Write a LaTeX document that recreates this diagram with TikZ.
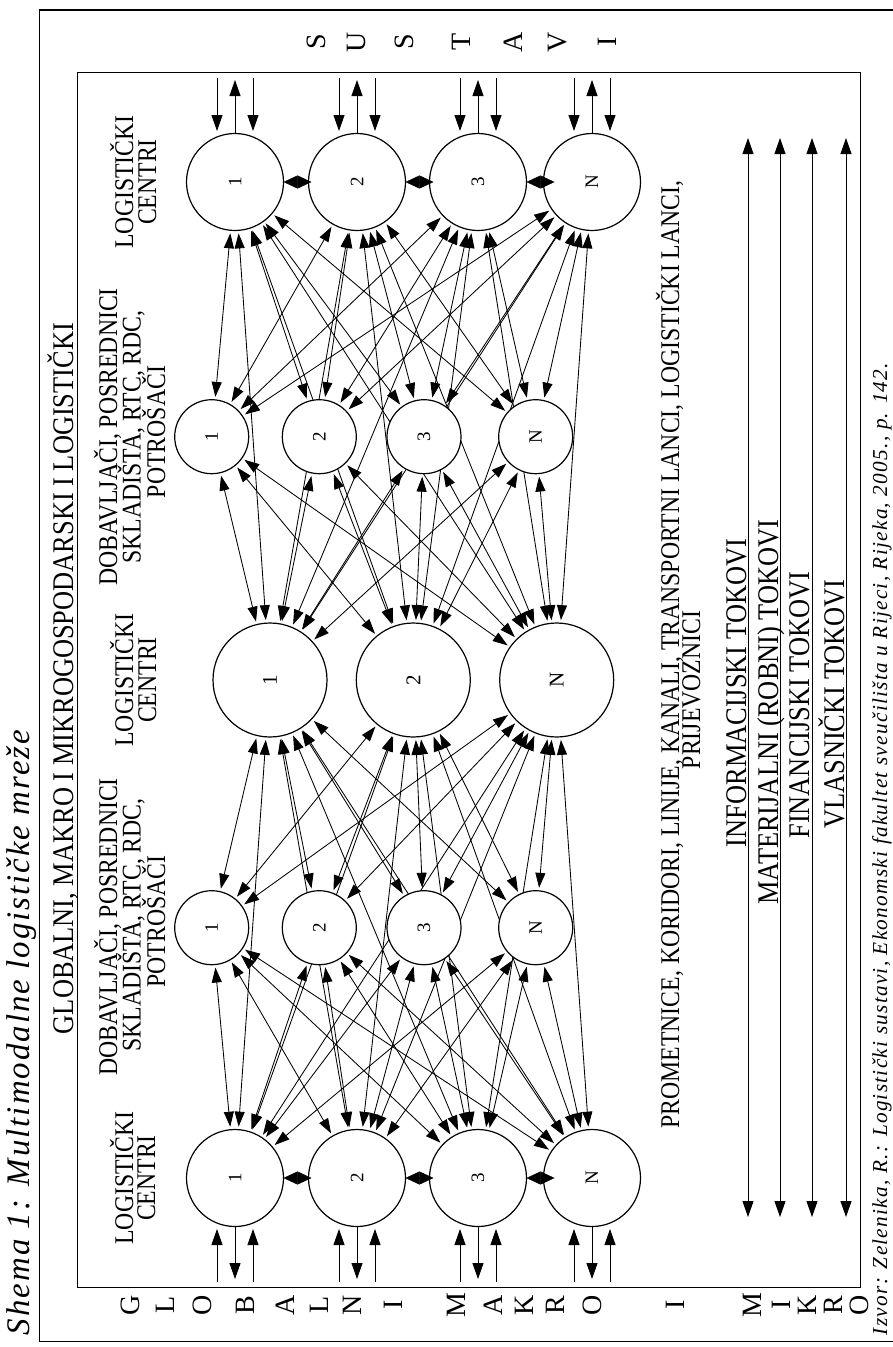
\documentclass[tikz,border=0pt]{standalone}
\usepackage{fontspec}
\setmainfont{Liberation Serif}
\newfontfamily\labfont[FakeStretch=0.88]{Liberation Serif}
\newfontfamily\notefont[LetterSpace=6]{Liberation Serif}
\usetikzlibrary{arrows.meta}
\pgfdeclarelayer{edges}
\pgfsetlayers{edges,main}

\begin{document}
\begin{tikzpicture}[x=1pt, y=-1pt,
  every node/.style={inner sep=0pt, outer sep=0pt},
  ring/.style={circle, draw, fill=white, line width=1.2pt, inner sep=0pt},
  lcring/.style={ring, minimum size=97pt, font=\fontsize{19}{19}\selectfont},
  smring/.style={ring, minimum size=74pt, font=\fontsize{19}{19}\selectfont},
  bgring/.style={ring, minimum size=114pt, font=\fontsize{21}{21}\selectfont},
  lbl/.style={rotate=90, anchor=base, font=\fontsize{27}{27}\labfont},
  title/.style={rotate=90, anchor=base, font=\fontsize{30}{30}\labfont},
  flowtxt/.style={rotate=90, anchor=base, font=\fontsize{30}{30}\labfont},
  letter/.style={rotate=90, anchor=center, font=\fontsize{28}{28}\selectfont},
  frame/.style={line width=1.2pt},
  net/.style={line width=0.85pt, {Triangle[length=15pt,width=10pt]}-{Triangle[length=15pt,width=10pt]},
    shorten <=3pt, shorten >=3pt},
  io/.style={line width=0.9pt, -{Triangle[length=16pt,width=11pt]}},
  flow/.style={line width=0.9pt, {Triangle[length=16pt,width=11pt]}-{Triangle[length=16pt,width=11pt]}},
  dia/.style={{Triangle[length=14pt,width=13pt]}-{Triangle[length=14pt,width=13pt]}},
]
\useasboundingbox (0,0) rectangle (893,1347);

% frames
\draw[frame] (39.3,10) rectangle (910,1341.7);
\draw[frame] (77.3,72.7) rectangle (860.5,1287.7);

% caption and source
\node[rotate=90, anchor=base] (caption) at (29,1032.5)
  {\resizebox{605pt}{!}{\notefont\itshape Shema 1: Multimodalne logističke mreže}};
\node[rotate=90, anchor=base] (source) at (887,849)
  {\resizebox{972pt}{!}{\notefont\itshape Izvor: Zelenika, R.: Logistički sustavi, Ekonomski fakultet sveučilišta u Rijeci, Rijeka, 2005., p. 142.}};

% title line
\node[title] (head) at (73,678.5) {GLOBALNI, MAKRO I MIKROGOSPODARSKI I LOGISTIČKI};

% column labels
\node[lbl] (tA) at (133,182) {LOGISTIČKI};
\node[lbl] (tB) at (156,182) {CENTRI};
\node[lbl] (uA) at (117,437) {DOBAVLJAČI, POSREDNICI};
\node[lbl] (uB) at (140.5,437) {SKLADIŠTA, RTC, RDC,};
\node[lbl] (uC) at (165,432) {POTROŠAČI};
\node[lbl] (mA) at (133,680) {LOGISTIČKI};
\node[lbl] (mB) at (156,680) {CENTRI};
\node[lbl] (lA) at (117,927) {DOBAVLJAČI, POSREDNICI};
\node[lbl] (lB) at (140.5,925) {SKLADIŠTA, RTC, RDC,};
\node[lbl] (lC) at (165,921.5) {POTROŠAČI};
\node[lbl] (bA) at (133,1178) {LOGISTIČKI};
\node[lbl] (bB) at (155,1178) {CENTRI};

\node[lbl] (pA) at (679,654.5) {PROMETNICE, KORIDORI, LINIJE, KANALI, TRANSPORTNI LANCI, LOGISTIČKI LANCI,};
\node[lbl] (pB) at (700,690) {PRIJEVOZNICI};

% flows
\node[flowtxt] (f1) at (746,693) {INFORMACIJSKI TOKOVI};
\node[flowtxt] (f2) at (778,712) {MATERIJALNI (ROBNI) TOKOVI};
\node[flowtxt] (f3) at (809,705) {FINANCIJSKI TOKOVI};
\node[flowtxt] (f4) at (844,704) {VLASNIČKI TOKOVI};
\foreach \x [count=\i] in {748,780,812,846} {
  \coordinate (fa\i) at (\x,138);
  \coordinate (fb\i) at (\x,1217);
  \draw[flow] (fa\i) -- (fb\i);
}

% spaced vertical words
\foreach \ch/\x [count=\i] in {S/316,U/356,S/404,T/461,A/513,V/558,I/607}
  \node[letter] (sv\i) at (\x,42) {\ch};
\foreach \ch/\x [count=\i] in {G/130,L/165,O/202,B/245,A/285,L/319,N/352,I/393,
    M/456,A/493,K/524,R/555,O/592,I/675,M/752,I/781,K/807,R/833,O/859}
  \node[letter] (gm\i) at (\x,1305) {\ch};

% logistic centres, suppliers, central centres
\foreach \n/\x/\t in {1/235/1,2/357/2,3/478/3,4/592/N} {
  \node[lcring] (T\n) at (\x,182) {\rotatebox{90}{\t}};
  \node[lcring] (B\n) at (\x,1178) {\rotatebox{90}{\t}};
}
\foreach \n/\x/\t in {1/211.7/1,2/319.3/2,3/424/3,4/535.7/N} {
  \node[smring] (U\n) at (\x,436.7) {\rotatebox{90}{\t}};
  \node[smring] (L\n) at (\x,927.7) {\rotatebox{90}{\t}};
}
\foreach \n/\x/\t in {1/270/1,2/413.3/2,3/556.7/N}
  \node[bgring] (M\n) at (\x,680) {\rotatebox{90}{\t}};

% links between neighbouring centres
\foreach \a/\b in {1/2,2/3,3/4} {
  \coordinate (td\a) at ([xshift=28pt]T\a.east);
  \draw[dia] (T\a.east) -- (td\a);
  \coordinate (bd\a) at ([xshift=28pt]B\a.east);
  \draw[dia] (B\a.east) -- (bd\a);
}

% inputs and outputs at the frame
\foreach \n/\x in {1/235,2/357,3/478,4/592} {
  \coordinate (tl0\n) at (\x-18,78);  \coordinate (tl1\n) at (\x-18,131);
  \coordinate (tr0\n) at (\x+18,78);  \coordinate (tr1\n) at (\x+18,131);
  \coordinate (tm\n) at (\x,80);
  \draw[io] (tl0\n) -- (tl1\n);
  \draw[io] (tr0\n) -- (tr1\n);
  \draw[io] (T\n.north) -- (tm\n);
  \coordinate (bl0\n) at (\x-18,1282); \coordinate (bl1\n) at (\x-18,1229);
  \coordinate (br0\n) at (\x+18,1282); \coordinate (br1\n) at (\x+18,1229);
  \coordinate (bm\n) at (\x,1279);
  \draw[io] (bl0\n) -- (bl1\n);
  \draw[io] (br0\n) -- (br1\n);
  \draw[io] (B\n.south) -- (bm\n);
}

% network links
\begin{pgfonlayer}{edges}
\foreach \a in {1,2,3,4} {
  \foreach \b in {1,2,3,4} {
    \draw[net] (T\a) -- (U\b);
    \draw[net] (B\a) -- (L\b);
  }
  \foreach \b in {1,2,3} {
    \draw[net] (T\a) -- (M\b);
    \draw[net] (B\a) -- (M\b);
    \draw[net] (U\a) -- (M\b);
    \draw[net] (L\a) -- (M\b);
  }
}
\end{pgfonlayer}
\end{tikzpicture}
\end{document}
